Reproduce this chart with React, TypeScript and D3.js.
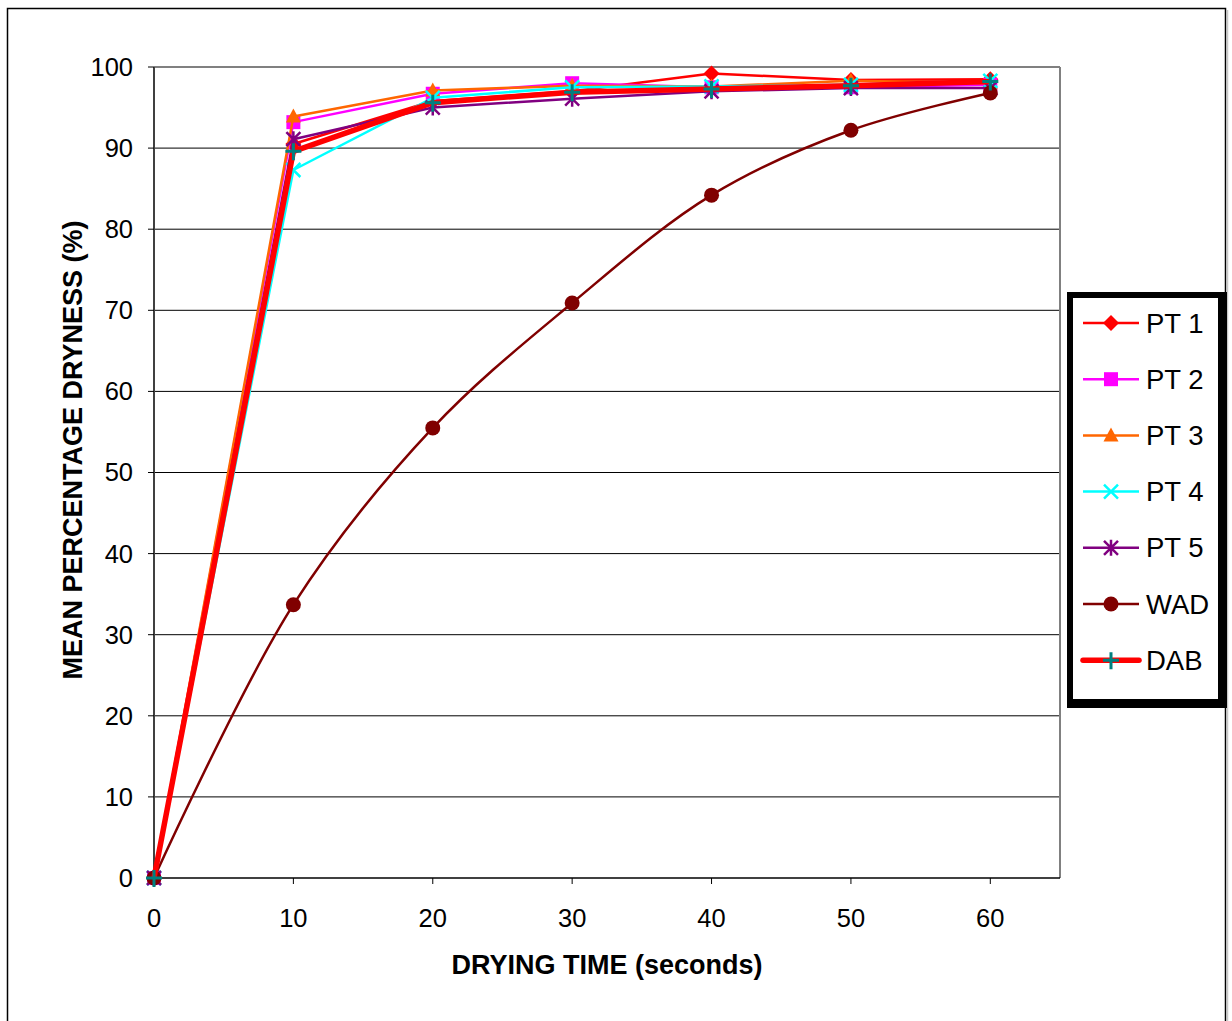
import React from "react";
import * as d3 from "d3";

const times = [0, 10, 20, 30, 40, 50, 60];
const pt1 = [0, 90.5, 95.8, 97.0, 99.2, 98.4, 98.5];
const pt2 = [0, 93.2, 96.7, 98.0, 97.5, 97.5, 97.8];
const pt3 = [0, 93.9, 97.1, 97.7, 97.6, 98.3, 98.0];
const pt4 = [0, 87.3, 96.2, 97.5, 97.6, 97.8, 98.3];
const pt5 = [0, 91.1, 95.0, 96.1, 97.0, 97.4, 97.4];
const wad = [0, 33.7, 55.5, 70.9, 84.2, 92.2, 96.8];
const dab = [0, 89.6, 95.6, 96.9, 97.3, 97.7, 98.2];

const yTicks = [0, 10, 20, 30, 40, 50, 60, 70, 80, 90, 100];
const xTicks = [0, 10, 20, 30, 40, 50, 60];

type Series = { name: string; values: number[]; color: string; marker: string; markerColor: string; width: number; smooth: boolean };

const series: Series[] = [
  { name: "PT 1", values: pt1, color: "#FF0000", marker: "diamond", markerColor: "#FF0000", width: 2.5, smooth: false },
  { name: "PT 2", values: pt2, color: "#FF00FF", marker: "square", markerColor: "#FF00FF", width: 2.5, smooth: false },
  { name: "PT 3", values: pt3, color: "#FF6600", marker: "triangle", markerColor: "#FF6600", width: 2.5, smooth: false },
  { name: "PT 4", values: pt4, color: "#00FFFF", marker: "x", markerColor: "#00FFFF", width: 2.5, smooth: false },
  { name: "PT 5", values: pt5, color: "#800080", marker: "star", markerColor: "#800080", width: 2.5, smooth: false },
  { name: "WAD", values: wad, color: "#800000", marker: "circle", markerColor: "#800000", width: 2.5, smooth: true },
  { name: "DAB", values: dab, color: "#FF0000", marker: "plus", markerColor: "#008080", width: 5.5, smooth: false },
];

const font = "'Liberation Sans', Arial, sans-serif";

function Marker({ type, cx, cy, color }: { type: string; cx: number; cy: number; color: string }) {
  const s = 8;
  switch (type) {
    case "diamond":
      return <path d={`M${cx},${cy - s} L${cx + s},${cy} L${cx},${cy + s} L${cx - s},${cy} Z`} fill={color} />;
    case "square":
      return <rect x={cx - 7} y={cy - 7} width={14} height={14} fill={color} />;
    case "triangle":
      return <path d={`M${cx},${cy - 8} L${cx + 7.5},${cy + 6} L${cx - 7.5},${cy + 6} Z`} fill={color} />;
    case "x":
      return <path d={`M${cx - 7},${cy - 7} L${cx + 7},${cy + 7} M${cx + 7},${cy - 7} L${cx - 7},${cy + 7}`} stroke={color} strokeWidth={2.5} />;
    case "star":
      return (
        <path
          d={`M${cx - 7},${cy - 7} L${cx + 7},${cy + 7} M${cx + 7},${cy - 7} L${cx - 7},${cy + 7} M${cx},${cy - 8} L${cx},${cy + 8}`}
          stroke={color}
          strokeWidth={2.5}
        />
      );
    case "circle":
      return <circle cx={cx} cy={cy} r={7.5} fill={color} />;
    case "plus":
      return <path d={`M${cx - 8},${cy} L${cx + 8},${cy} M${cx},${cy - 8} L${cx},${cy + 9}`} stroke={color} strokeWidth={3} />;
    default:
      return null;
  }
}

export default function App() {
  const W = 1232;
  const H = 1021;
  const left = 154;
  const right = 1060;
  const top = 67;
  const bottom = 878;
  const x = d3.scaleLinear().domain([0, 65]).range([left, right]);
  const y = d3.scaleLinear().domain([0, 100]).range([bottom, top]);

  const straight = d3.line<number>().x((_, i) => x(times[i])).y((d) => y(d));
  const smooth = d3
    .line<number>()
    .x((_, i) => x(times[i]))
    .y((d) => y(d))
    .curve(d3.curveCatmullRom.alpha(0.5));

  const legX = 1083;
  const legY0 = 323;
  const legDy = 56.2;

  return (
    <svg width={W} height={H} style={{ position: "absolute", left: 0, top: 0, background: "#fff" }} fontFamily={font}>
      <rect x={0} y={0} width={W} height={H} fill="#fff" />
      {/* outer border */}
      <path d={`M7.5,${H + 5} L7.5,8.5 L1225.5,8.5 L1225.5,${H + 5}`} fill="none" stroke="#000" strokeWidth={1.5} />
      <line x1={1227.5} y1={10} x2={1227.5} y2={H} stroke="#c8c8c8" strokeWidth={1.5} />

      {/* gridlines */}
      {yTicks.filter((t) => t > 0 && t < 100).map((t) => (
        <line key={t} x1={left} x2={right} y1={y(t)} y2={y(t)} stroke="#000" strokeWidth={1} />
      ))}
      {/* plot border */}
      <line x1={left} x2={right} y1={top} y2={top} stroke="#808080" strokeWidth={2} />
      <line x1={right} x2={right} y1={top} y2={bottom} stroke="#808080" strokeWidth={2} />
      {/* axes */}
      <line x1={left} x2={left} y1={top} y2={bottom} stroke="#404040" strokeWidth={2} />
      <line x1={left} x2={right} y1={bottom} y2={bottom} stroke="#000" strokeWidth={1.5} />
      {yTicks.map((t) => (
        <g key={t}>
          <line x1={left - 6} x2={left} y1={y(t)} y2={y(t)} stroke="#000" strokeWidth={1} />
          <text x={133} y={y(t)} dy="0.35em" textAnchor="end" fontSize={25.5} fill="#000">
            {t}
          </text>
        </g>
      ))}
      {xTicks.map((t) => (
        <g key={t}>
          <line x1={x(t)} x2={x(t)} y1={bottom} y2={bottom + 6} stroke="#000" strokeWidth={1} />
          <text x={x(t)} y={918} dy="0.35em" textAnchor="middle" fontSize={25.5} fill="#000">
            {t}
          </text>
        </g>
      ))}

      <text x={607} y={965} dy="0.35em" textAnchor="middle" fontSize={27} fontWeight="bold" fill="#000">
        DRYING TIME (seconds)
      </text>
      <text
        transform={`translate(73,450) rotate(-90)`}
        dy="0.35em"
        textAnchor="middle"
        fontSize={27}
        fontWeight="bold"
        fill="#000"
      >
        MEAN PERCENTAGE DRYNESS (%)
      </text>

      {/* series */}
      {series.map((s) => (
        <g key={s.name}>
          <path
            d={(s.smooth ? smooth : straight)(s.values) || ""}
            fill="none"
            stroke={s.color}
            strokeWidth={s.width}
            strokeLinejoin="round"
          />
          {s.values.map((v, i) => (
            <Marker key={i} type={s.marker} cx={x(times[i])} cy={y(v)} color={s.markerColor} />
          ))}
        </g>
      ))}

      {/* legend */}
      <rect x={1067} y={292} width={160} height={416} fill="#000" />
      <rect x={1073} y={298} width={145} height={401} fill="#fff" />
      {series.map((s, i) => {
        const cy = legY0 + i * legDy;
        return (
          <g key={s.name}>
            <line x1={legX} x2={legX + 56} y1={cy} y2={cy} stroke={s.color} strokeWidth={s.width} strokeLinecap={s.width > 3 ? "round" : "butt"} />
            <Marker type={s.marker} cx={legX + 28} cy={cy} color={s.markerColor} />
            <text x={1146} y={cy} dy="0.35em" fontSize={27.5} fill="#000">
              {s.name}
            </text>
          </g>
        );
      })}
    </svg>
  );
}
